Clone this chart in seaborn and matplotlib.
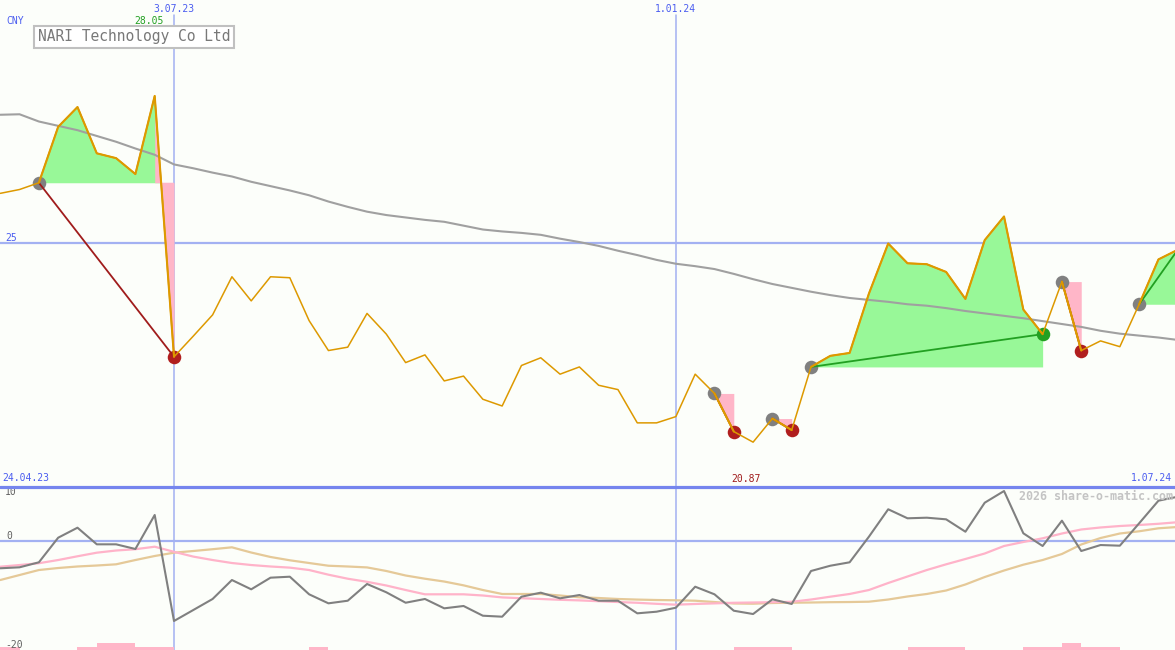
import numpy as np
import pandas as pd
import matplotlib
matplotlib.use("Agg")
import matplotlib.pyplot as plt
import matplotlib.dates as mdates
import matplotlib.transforms as mtransforms
import seaborn as sns

# weekly closes, NARI Technology (CNY)
weeks = pd.date_range("2023-05-01", periods=62, freq="W-MON")
price = [26.03, 26.11, 26.25, 27.41, 27.82, 26.86, 26.76, 26.43, 28.05, 22.64,
         23.07, 23.51, 24.30, 23.80, 24.30, 24.28, 23.39, 22.77, 22.84, 23.54,
         23.11, 22.52, 22.68, 22.14, 22.24, 21.76, 21.62, 22.46, 22.62, 22.28,
         22.43, 22.05, 21.96, 21.27, 21.27, 21.40, 22.28, 21.88, 21.09, 20.87,
         21.36, 21.12, 22.43, 22.66, 22.72, 23.95, 24.99, 24.58, 24.56, 24.40,
         23.84, 25.06, 25.55, 23.62, 23.11, 24.20, 22.77, 22.97, 22.85, 23.73,
         24.66, 24.86]
moving_avg = [27.66, 27.67, 27.52, 27.43, 27.34, 27.22, 27.10, 26.96, 26.83, 26.63,
              26.55, 26.46, 26.38, 26.27, 26.18, 26.09, 25.99, 25.86, 25.75, 25.65,
              25.58, 25.53, 25.48, 25.44, 25.36, 25.28, 25.24, 25.21, 25.17, 25.09,
              25.02, 24.94, 24.84, 24.75, 24.65, 24.57, 24.52, 24.46, 24.36, 24.25,
              24.15, 24.07, 23.99, 23.92, 23.86, 23.82, 23.78, 23.73, 23.70, 23.65,
              23.59, 23.54, 23.49, 23.44, 23.38, 23.32, 23.26, 23.18, 23.12, 23.08,
              23.04, 22.99]
momentum = [-4.96, -4.78, -3.86, 0.67, 2.51, -0.55, -0.55, -1.41, 4.85, -14.66,
            -12.64, -10.61, -7.12, -8.83, -6.69, -6.51, -9.75, -11.41, -10.93, -7.85,
            -9.38, -11.30, -10.61, -12.33, -11.90, -13.69, -13.87, -10.19, -9.45, -10.49,
            -9.88, -10.93, -10.93, -13.25, -12.95, -12.22, -8.35, -9.75, -12.77, -13.38,
            -10.67, -11.53, -5.46, -4.49, -3.86, 0.85, 5.90, 4.24, 4.35, 4.05,
            1.77, 7.11, 9.26, 1.48, -0.86, 3.80, -1.78, -0.68, -0.80, 3.32,
            7.48, 8.21]
signal_fast = [-4.67, -4.36, -4.03, -3.44, -2.75, -2.09, -1.69, -1.45, -0.99, -1.93,
               -2.81, -3.44, -3.99, -4.36, -4.63, -4.84, -5.28, -6.14, -6.88, -7.45,
               -8.13, -8.96, -9.75, -9.75, -9.75, -9.97, -10.32, -10.47, -10.61, -10.76,
               -10.87, -11.02, -11.17, -11.31, -11.50, -11.66, -11.53, -11.42, -11.31, -11.26,
               -11.20, -11.13, -10.71, -10.19, -9.69, -8.96, -7.67, -6.47, -5.28, -4.23,
               -3.25, -2.24, -0.86, -0.12, 0.56, 1.44, 2.18, 2.55, 2.82, 3.01,
               3.23, 3.52]
signal_slow = [-7.12, -6.20, -5.28, -4.91, -4.63, -4.45, -4.23, -3.44, -2.70, -2.09,
               -1.78, -1.45, -1.10, -2.06, -2.88, -3.49, -3.99, -4.49, -4.63, -4.80,
               -5.46, -6.29, -6.88, -7.40, -8.10, -8.96, -9.69, -9.69, -9.69, -9.97,
               -10.30, -10.43, -10.61, -10.72, -10.80, -10.85, -10.93, -11.17, -11.44, -11.48,
               -11.35, -11.30, -11.26, -11.20, -11.17, -11.11, -10.71, -10.15, -9.69, -9.05,
               -7.94, -6.57, -5.37, -4.30, -3.44, -2.33, -0.58, 0.61, 1.44, 1.85,
               2.40, 2.64]
# level of the small pink bars, one per week interval
alert_levels = [1, 0, 0, 0, 1, 2, 2, 1, 1, 0,
                0, 0, 0, 0, 0, 0, 1, 0, 0, 0,
                0, 0, 0, 0, 0, 0, 0, 0, 0, 0,
                0, 0, 0, 0, 0, 0, 0, 0, 1, 1,
                1, 0, 0, 0, 0, 0, 0, 1, 1, 1,
                0, 0, 0, 1, 1, 2, 1, 1, 0, 0,
                0]
# trades: entry week index, exit week index (None = still open)
trade_entry = [2, 37, 40, 42, 55, 59]
trade_exit = [9, 38, 41, 54, 56, None]

marker_dates = [pd.Timestamp("2023-07-03"), pd.Timestamp("2024-01-01")]
marker_labels = ["3.07.23", "1.01.24"]
start_label, end_label = "24.04.23", "1.07.24"
grid_price = 25

bg = "#fcfefa"
blue_txt = "#4a5cf0"
grid_col = "#a3b1f2"

sns.set_style("white")
plt.rcParams["font.family"] = ["DejaVu Sans Mono"]

fig = plt.figure(figsize=(11.75, 6.5), dpi=100, facecolor=bg)
ax = fig.add_axes([0, 163 / 650, 1, 487 / 650], facecolor=bg)
ax2 = fig.add_axes([0, 0, 1, 163 / 650], facecolor=bg)

x0 = mdates.date2num(weeks[0])
for a in (ax, ax2):
    a.set_xlim(x0 - 0.1, x0 + 426)
    a.axis("off")
ax.set_ylim(19.94, 30.04)
ax2.set_ylim(-20, 10)

# grid lines
ax.axhline(grid_price, color=grid_col, lw=1.6, zorder=0)
for d in marker_dates:
    ax.axvline(d, ymin=0, ymax=(487 - 15) / 487, color=grid_col, lw=1.1, zorder=0)
    ax2.axvline(d, color=grid_col, lw=1.1, zorder=0)
ax2.axhline(0, color=grid_col, lw=1.6, zorder=0)
ax2.axhline(10, color="#7585ee", lw=2.3, zorder=5, clip_on=False)

# moving average and price
sns.lineplot(x=weeks, y=moving_avg, ax=ax, color="#a0a0a0", lw=1.5, zorder=2)

p = np.array(price)
for e, x in zip(trade_entry, trade_exit):
    end = x if x is not None else len(p) - 1
    xs = weeks[e:end + 1]
    ys = p[e:end + 1]
    ax.fill_between(xs, ys, p[e], where=ys >= p[e], interpolate=True,
                    color="#98f898", lw=0, zorder=1)
    ax.fill_between(xs, ys, p[e], where=ys <= p[e], interpolate=True,
                    color="#ffb6c8", lw=0, zorder=1)
    if e == 2:
        ax.fill_between(weeks[8:10], p[8:10], p[e], color="#ffb6c8", lw=0, zorder=1)
    gain = p[end] >= p[e]
    ax.plot([weeks[e], weeks[end]], [p[e], p[end]],
            color="#22a022" if gain else "#a01c1c", lw=1.3, zorder=4)
    ax.scatter([weeks[e]], [p[e]], s=95, color="#808080", lw=0, zorder=3)
    if x is not None:
        ax.scatter([weeks[x]], [p[x]], s=95, color="#22a022" if gain else "#b01e1e",
                   lw=0, zorder=3)

sns.lineplot(x=weeks, y=price, ax=ax, color="#dd9900", lw=1.1, zorder=5)
for e, x in zip(trade_entry, trade_exit):
    end = x if x is not None else len(p) - 1
    ax.plot(weeks[e:end + 1], p[e:end + 1], color="#dd9900", lw=1.5, zorder=5)

# lower panel
sns.lineplot(x=weeks, y=signal_slow, ax=ax2, color="#e5c998", lw=1.6, zorder=2)
sns.lineplot(x=weeks, y=signal_fast, ax=ax2, color="#ffb3c9", lw=1.6, zorder=2)
sns.lineplot(x=weeks, y=momentum, ax=ax2, color="#808080", lw=1.5, zorder=3)
lv = np.array(alert_levels)
ax2.bar(weeks[:-1][lv > 0], lv[lv > 0] * 0.6, width=7, bottom=-20, align="edge",
        color="#ffb6c8", lw=0, zorder=1)

# texts
tx = mtransforms.blended_transform_factory(ax.transData, ax.transAxes)
for d, lab in zip(marker_dates, marker_labels):
    ax.text(d, 1 - 9 / 487, lab, transform=tx, ha="center", va="center",
            color=blue_txt, fontsize=7)
imax = int(np.argmax(p))
imin = int(np.argmin(p))
ax.annotate(f"{p[imax]:.2f}", (mdates.date2num(weeks[imax]), 1 - 21 / 487), xycoords=tx,
            xytext=(-4, 0), textcoords="offset points", ha="center", va="center",
            color="#22a022", fontsize=7)
ax.annotate(f"{p[imin]:.2f}", (mdates.date2num(weeks[imin]), 1 - 479 / 487), xycoords=tx,
            xytext=(-5, 0), textcoords="offset points", ha="center", va="center",
            color="#a01c1c", fontsize=7)
ax.text(6 / 1175, 1 - 21 / 487, "CNY", transform=ax.transAxes, ha="left", va="center",
        color=blue_txt, fontsize=7)
ax.text(5 / 1175, grid_price, "25", transform=mtransforms.blended_transform_factory(
    ax.transAxes, ax.transData), ha="left", va="bottom", color=blue_txt, fontsize=7)
ax.text(2 / 1175, 1 - 478 / 487, start_label, transform=ax.transAxes, ha="left",
        va="center", color=blue_txt, fontsize=7)
ax.text(1 - 3 / 1175, 1 - 478 / 487, end_label, transform=ax.transAxes, ha="right",
        va="center", color=blue_txt, fontsize=7)
ty = mtransforms.blended_transform_factory(ax2.transAxes, ax2.transData)
ax2.text(5 / 1175, 10, "10", transform=ty, ha="left", va="top", color="#606060", fontsize=7)
ax2.text(6 / 1175, 0, "0", transform=ty, ha="left", va="bottom", color="#606060", fontsize=7)
ax2.text(5 / 1175, -20, "-20", transform=ty, ha="left", va="bottom", color="#606060", fontsize=7)
fig.text(1 - 2 / 1175, 1 - 496 / 650, "2026 share-o-matic.com", ha="right", va="center",
         color="#c4c4c4", fontsize=8.4, fontweight="bold")
fig.text(38 / 1175, 1 - 37 / 650, "NARI Technology Co Ltd", ha="left", va="center",
         color="#787878", fontsize=10.5,
         bbox=dict(boxstyle="square,pad=0.25", fc="white", ec="#c0c0c0", lw=1.5))

fig.savefig("out.png", dpi=100, facecolor=bg)
